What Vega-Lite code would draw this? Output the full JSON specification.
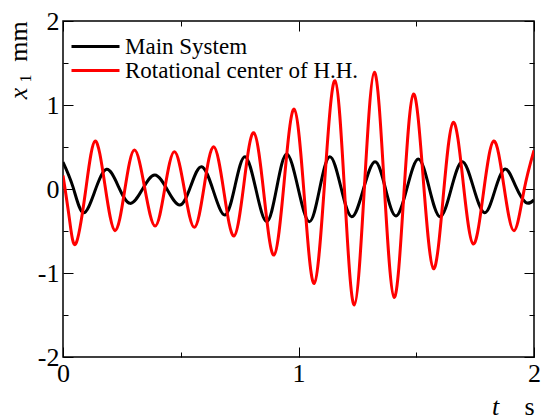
{
  "$schema": "https://vega.github.io/schema/vega-lite/v6.json",
  "width": 471,
  "height": 336,
  "autosize": {"type": "none"},
  "padding": {"left": 63, "top": 21, "right": 7, "bottom": 62},
  "background": "white",
  "config": {
    "view": {"stroke": "#000", "strokeWidth": 1.5},
    "axis": {
      "domain": false,
      "grid": false,
      "labelFont": "Liberation Serif",
      "labelFontSize": 26,
      "labelColor": "#000",
      "tickColor": "#000",
      "tickWidth": 1,
      "titleFont": "Liberation Serif",
      "titleFontSize": 26,
      "titleColor": "#000",
      "titleFontWeight": "normal"
    },
    "legend": {
      "labelFont": "Liberation Serif",
      "labelFontSize": 23,
      "labelColor": "#000",
      "labelLimit": 0,
      "symbolType": "M-3.8,0H1",
      "symbolStrokeWidth": 3,
      "symbolSize": 400,
      "padding": 0
    }
  },
  "datasets": {
    "black": [
      {"t": 0, "v": 0.32}, {"t": 0.043, "v": 0.019}, {"t": 0.086, "v": -0.282}, {"t": 0.1355, "v": -0.024},
      {"t": 0.185, "v": 0.234}, {"t": 0.235, "v": 0.032}, {"t": 0.285, "v": -0.171}, {"t": 0.3375, "v": -0.002},
      {"t": 0.39, "v": 0.167}, {"t": 0.4435, "v": -0.012}, {"t": 0.497, "v": -0.19}, {"t": 0.543, "v": 0.038},
      {"t": 0.589, "v": 0.266}, {"t": 0.6385, "v": -0.022}, {"t": 0.688, "v": -0.31}, {"t": 0.7305, "v": 0.038},
      {"t": 0.773, "v": 0.385}, {"t": 0.819, "v": -0.002}, {"t": 0.865, "v": -0.389}, {"t": 0.9075, "v": 0.014},
      {"t": 0.95, "v": 0.417}, {"t": 0.998, "v": 0.014}, {"t": 1.046, "v": -0.389}, {"t": 1.0895, "v": -0.002},
      {"t": 1.133, "v": 0.385}, {"t": 1.1795, "v": 0.028}, {"t": 1.226, "v": -0.33}, {"t": 1.2755, "v": -0.003},
      {"t": 1.325, "v": 0.325}, {"t": 1.3695, "v": 0.002}, {"t": 1.414, "v": -0.321}, {"t": 1.4615, "v": 0.018},
      {"t": 1.509, "v": 0.357}, {"t": 1.555, "v": 0.014}, {"t": 1.601, "v": -0.33}, {"t": 1.648, "v": -0.003},
      {"t": 1.695, "v": 0.325}, {"t": 1.7425, "v": 0.022}, {"t": 1.79, "v": -0.282}, {"t": 1.8335, "v": -0.022},
      {"t": 1.877, "v": 0.238}, {"t": 1.921, "v": 0.039}, {"t": 1.965, "v": -0.16}, {"t": 2.0, "v": -0.13}
    ],
    "red": [
      {"t": 0, "v": 0.16}, {"t": 0.027, "v": -0.35}, {"t": 0.054, "v": -0.655}, {"t": 0.095, "v": -0.042},
      {"t": 0.136, "v": 0.571}, {"t": 0.1785, "v": 0.038}, {"t": 0.221, "v": -0.496}, {"t": 0.262, "v": -0.016},
      {"t": 0.303, "v": 0.464}, {"t": 0.347, "v": 0.012}, {"t": 0.391, "v": -0.44}, {"t": 0.432, "v": 0.002},
      {"t": 0.473, "v": 0.444}, {"t": 0.5155, "v": -0.006}, {"t": 0.558, "v": -0.456}, {"t": 0.599, "v": 0.024},
      {"t": 0.64, "v": 0.504}, {"t": 0.683, "v": -0.028}, {"t": 0.726, "v": -0.56}, {"t": 0.768, "v": 0.055},
      {"t": 0.81, "v": 0.67}, {"t": 0.853, "v": -0.058}, {"t": 0.896, "v": -0.786}, {"t": 0.939, "v": 0.082},
      {"t": 0.982, "v": 0.95}, {"t": 1.0245, "v": -0.087}, {"t": 1.067, "v": -1.123}, {"t": 1.111, "v": 0.083},
      {"t": 1.155, "v": 1.289}, {"t": 1.196, "v": -0.046}, {"t": 1.237, "v": -1.381}, {"t": 1.2795, "v": 0.004},
      {"t": 1.322, "v": 1.389}, {"t": 1.364, "v": 0.05}, {"t": 1.406, "v": -1.29}, {"t": 1.447, "v": -0.08},
      {"t": 1.488, "v": 1.131}, {"t": 1.5305, "v": 0.092}, {"t": 1.573, "v": -0.948}, {"t": 1.615, "v": -0.077},
      {"t": 1.657, "v": 0.794}, {"t": 1.6995, "v": 0.07}, {"t": 1.742, "v": -0.655}, {"t": 1.7855, "v": -0.042},
      {"t": 1.829, "v": 0.571}, {"t": 1.872, "v": 0.038}, {"t": 1.915, "v": -0.496}, {"t": 1.9575, "v": -0.018},
      {"t": 2.0, "v": 0.46}
    ],
    "dummy": [{"t": 0, "v": 0}]
  },
  "layer": [
    {
      "data": {"name": "black"},
      "transform": [{"calculate": "'Main System'", "as": "series"}],
      "mark": {"type": "line", "strokeWidth": 3, "interpolate": "natural", "clip": true},
      "encoding": {
        "x": {
          "field": "t", "type": "quantitative",
          "scale": {"domain": [0, 2], "nice": false, "zero": false},
          "axis": {
            "orient": "bottom", "values": [0, 1, 2], "tickSize": -10, "labelPadding": 13,
            "labelExpr": "'' + datum.value", "labelFlush": false, "labelOverlap": false,
            "title": "t", "titleFontStyle": "italic", "titleX": 432, "titleY": 57,
            "titleAlign": "center", "titleBaseline": "alphabetic", "titleAngle": 0
          }
        },
        "y": {
          "field": "v", "type": "quantitative",
          "scale": {"domain": [-2, 2], "nice": false, "zero": false},
          "axis": {
            "orient": "left", "values": [-2, -1, 0, 1, 2], "tickSize": -10, "labelPadding": 14,
            "labelExpr": "datum.value < 0 ? '-' + abs(datum.value) : '' + datum.value",
            "labelFlush": false, "labelOverlap": false,
            "title": "x", "titleFontStyle": "italic", "titleX": -45, "titleY": 72,
            "titleAlign": "center", "titleBaseline": "middle", "titleAngle": -90
          }
        },
        "color": {
          "field": "series", "type": "nominal",
          "scale": {"domain": ["Main System", "Rotational center of H.H."], "range": ["#000000", "#ff0000"]},
          "legend": {"orient": "none", "legendX": 35, "legendY": 14, "title": null, "labelOffset": 4, "rowPadding": 0}
        }
      }
    },
    {
      "data": {"name": "red"},
      "transform": [{"calculate": "'Rotational center of H.H.'", "as": "series"}],
      "mark": {"type": "line", "strokeWidth": 3, "interpolate": "natural", "clip": true},
      "encoding": {
        "x": {
          "field": "t", "type": "quantitative",
          "axis": {
            "orient": "top", "values": [0, 1, 2], "tickSize": -10, "labels": false,
            "title": "s", "titleX": 466, "titleY": 393,
            "titleAlign": "center", "titleBaseline": "alphabetic", "titleAngle": 0
          }
        },
        "y": {
          "field": "v", "type": "quantitative",
          "axis": {
            "orient": "right", "values": [-2, -1, 0, 1, 2], "tickSize": -10, "labels": false,
            "title": "mm", "titleX": -516, "titleY": 20,
            "titleAlign": "center", "titleBaseline": "middle", "titleAngle": -90
          }
        },
        "color": {"field": "series", "type": "nominal"}
      }
    },
    {
      "data": {"name": "dummy"},
      "mark": {"type": "point", "opacity": 0},
      "encoding": {
        "x": {
          "field": "t", "type": "quantitative",
          "axis": {"orient": "bottom", "values": [0.5, 1.5], "tickSize": -5, "labels": false, "title": null}
        },
        "y": {
          "field": "v", "type": "quantitative",
          "axis": {
            "orient": "left", "values": [-1.5, -0.5, 0.5, 1.5], "tickSize": -5, "labels": false,
            "title": "1", "titleFontSize": 16, "titleX": -38, "titleY": 57,
            "titleAlign": "center", "titleBaseline": "middle", "titleAngle": -90
          }
        }
      }
    },
    {
      "data": {"name": "dummy"},
      "mark": {"type": "point", "opacity": 0},
      "encoding": {
        "x": {
          "field": "t", "type": "quantitative",
          "axis": {"orient": "top", "values": [0.5, 1.5], "tickSize": -5, "labels": false, "title": null}
        },
        "y": {
          "field": "v", "type": "quantitative",
          "axis": {"orient": "right", "values": [-1.5, -0.5, 0.5, 1.5], "tickSize": -5, "labels": false, "title": null}
        }
      }
    }
  ],
  "resolve": {
    "scale": {"x": "shared", "y": "shared"},
    "axis": {"x": "independent", "y": "independent"}
  }
}
